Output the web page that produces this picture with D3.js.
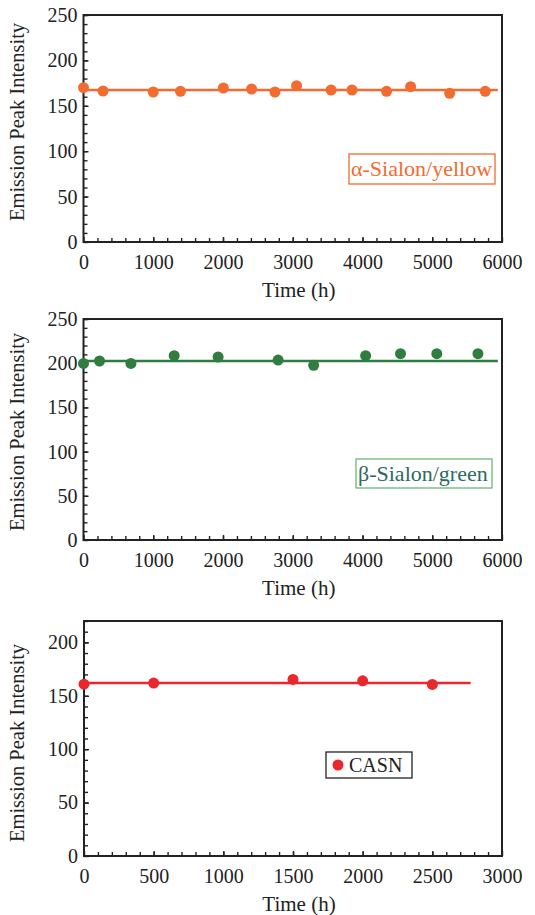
<!DOCTYPE html>
<html>
<head>
<meta charset="utf-8">
<script src="https://cdn.jsdelivr.net/npm/d3@7"></script>
<style>
  html, body { margin: 0; padding: 0; background: #fff; }
  svg { display: block; }
  text { font-family: "Liberation Serif", "Times New Roman", "DejaVu Serif", serif; }
</style>
</head>
<body>
<svg id="chart" width="535" height="915"></svg>
<script>
// α-Sialon (yellow phosphor) aging test
const alphaTime = [0, 280, 1000, 1390, 2005, 2410, 2745, 3055, 3550, 3850, 4345, 4690, 5250, 5760];
const alphaIntensity = [170, 166.3, 165.2, 166, 169.6, 168.5, 165.2, 172.2, 167.4, 167.4, 166, 171, 163.7, 166];
const alphaFit = [167.4, 167.4];
const alphaFitTime = [0, 5940];

// β-Sialon (green phosphor) aging test
const betaTime = [0, 230, 680, 1300, 1930, 2790, 3300, 4045, 4545, 5065, 5655];
const betaIntensity = [199.8, 202.5, 199.8, 208.5, 207, 203.6, 197.6, 208.5, 210.8, 210.8, 210.8];
const betaFit = [202.5, 202.5];
const betaFitTime = [0, 5940];

// CASN (red phosphor) aging test
const casnTime = [0, 500, 1500, 2000, 2500];
const casnIntensity = [160.9, 161.9, 165.3, 164, 160.6];
const casnFit = [161.9, 161.9];
const casnFitTime = [0, 2775];

// Axis ranges and tick values
const yTicks250 = [0, 50, 100, 150, 200, 250];
const yTicks220 = [0, 50, 100, 150, 200];
const xTicks6000 = [0, 1000, 2000, 3000, 4000, 5000, 6000];
const xTicks3000 = [0, 500, 1000, 1500, 2000, 2500, 3000];

const yLabel = "Emission Peak Intensity";
const xLabel = "Time (h)";

const serif = '"Liberation Serif", "Times New Roman", "DejaVu Serif", serif';
const svg = d3.select("#chart");

function panel(cfg) {
  const x = d3.scaleLinear().domain(cfg.xDomain).range([cfg.left, cfg.right]);
  const y = d3.scaleLinear().domain(cfg.yDomain).range([cfg.bottom, cfg.top]);
  const g = svg.append("g");

  // minor ticks (inward)
  const xMinor = d3.range(cfg.xDomain[0] + cfg.xMinorStep, cfg.xDomain[1], cfg.xMinorStep);
  const yMinor = d3.range(cfg.yDomain[0] + cfg.yMinorStep, cfg.yDomain[1] + 0.001, cfg.yMinorStep);

  g.append("g")
    .attr("transform", `translate(0,${cfg.bottom})`)
    .call(d3.axisBottom(x).tickValues(xMinor).tickSize(-4).tickFormat(""))
    .call(a => a.select(".domain").remove())
    .call(a => a.selectAll("line").attr("stroke", "#222").attr("stroke-width", 1.4));

  g.append("g")
    .attr("transform", `translate(${cfg.left},0)`)
    .call(d3.axisLeft(y).tickValues(yMinor).tickSize(-4).tickFormat(""))
    .call(a => a.select(".domain").remove())
    .call(a => a.selectAll("line").attr("stroke", "#222").attr("stroke-width", 1.4));

  // major ticks + labels
  g.append("g")
    .attr("transform", `translate(0,${cfg.bottom})`)
    .attr("font-family", serif)
    .call(d3.axisBottom(x).tickValues(cfg.xTicks).tickSize(-5).tickPadding(13).tickFormat(d3.format("d")))
    .call(a => a.select(".domain").remove())
    .call(a => a.selectAll("line").attr("stroke", "#222").attr("stroke-width", 1.4))
    .call(a => a.selectAll("text").attr("font-size", 20).attr("fill", "#222")
      .style("font-family", serif));

  g.append("g")
    .attr("transform", `translate(${cfg.left},0)`)
    .attr("font-family", serif)
    .call(d3.axisLeft(y).tickValues(cfg.yTicks).tickSize(-5).tickPadding(6).tickFormat(d3.format("d")))
    .call(a => a.select(".domain").remove())
    .call(a => a.selectAll("line").attr("stroke", "#222").attr("stroke-width", 1.4))
    .call(a => a.selectAll("text").attr("font-size", 20).attr("fill", "#222")
      .style("font-family", serif));

  // frame
  g.append("rect")
    .attr("x", cfg.left).attr("y", cfg.top)
    .attr("width", cfg.right - cfg.left).attr("height", cfg.bottom - cfg.top)
    .attr("fill", "none").attr("stroke", "#222").attr("stroke-width", 2);

  // fit line
  const line = d3.line().x(d => x(d[0])).y(d => y(d[1]));
  g.append("path")
    .datum(cfg.fitTime.map((t, i) => [t, cfg.fit[i]]))
    .attr("d", line)
    .attr("fill", "none").attr("stroke", cfg.color).attr("stroke-width", 2.5);

  // data points
  g.selectAll("circle.pt")
    .data(cfg.time.map((t, i) => [t, cfg.values[i]]))
    .join("circle")
    .attr("class", "pt")
    .attr("cx", d => x(d[0])).attr("cy", d => y(d[1]))
    .attr("r", 5.5).attr("fill", cfg.color);

  // axis titles
  g.append("text")
    .attr("x", (cfg.left + cfg.right) / 2 + 6).attr("y", cfg.bottom + 55)
    .attr("text-anchor", "middle").attr("font-size", 21).attr("fill", "#222")
    .style("font-family", serif)
    .text(xLabel);

  g.append("text")
    .attr("transform", `translate(${cfg.yTitleX},${cfg.yTitleY}) rotate(-90)`)
    .attr("text-anchor", "middle").attr("font-size", 20.5).attr("fill", "#222")
    .style("font-family", serif)
    .text(yLabel);

  // legend
  const lg = g.append("g");
  lg.append("rect")
    .attr("x", cfg.legend.x).attr("y", cfg.legend.y)
    .attr("width", cfg.legend.w).attr("height", cfg.legend.h)
    .attr("fill", "#fff").attr("stroke", cfg.legend.border).attr("stroke-width", 1.3);
  if (cfg.legend.marker) {
    lg.append("circle")
      .attr("cx", cfg.legend.x + 12).attr("cy", cfg.legend.y + cfg.legend.h / 2)
      .attr("r", 5.5).attr("fill", cfg.color);
  }
  lg.append("text")
    .attr("x", cfg.legend.tx).attr("y", cfg.legend.y + cfg.legend.h / 2 + 7)
    .attr("font-size", cfg.legend.fs).attr("fill", cfg.legend.textColor)
    .style("font-family", serif)
    .text(cfg.legend.label);
}

panel({
  left: 83.5, right: 502, top: 15, bottom: 242,
  xDomain: [0, 6000], yDomain: [0, 250], xTicks: xTicks6000, yTicks: yTicks250,
  xMinorStep: 200, yMinorStep: 10,
  time: alphaTime, values: alphaIntensity, fit: alphaFit, fitTime: alphaFitTime,
  color: "#f26b30", yTitleX: 24, yTitleY: 122,
  legend: { x: 349, y: 154, w: 146, h: 30, tx: 351, fs: 22, label: "α-Sialon/yellow",
            border: "#f26b30", textColor: "#f26b30" }
});

panel({
  left: 83.5, right: 502, top: 319, bottom: 540,
  xDomain: [0, 6000], yDomain: [0, 250], xTicks: xTicks6000, yTicks: yTicks250,
  xMinorStep: 200, yMinorStep: 10,
  time: betaTime, values: betaIntensity, fit: betaFit, fitTime: betaFitTime,
  color: "#2f7d40", yTitleX: 24, yTitleY: 432,
  legend: { x: 356, y: 459, w: 136, h: 29, tx: 358, fs: 22, label: "β-Sialon/green",
            border: "#6cb67c", textColor: "#2c6b5e" }
});

panel({
  left: 84, right: 502, top: 621, bottom: 856,
  xDomain: [0, 3000], yDomain: [0, 220], xTicks: xTicks3000, yTicks: yTicks220,
  xMinorStep: 100, yMinorStep: 10,
  time: casnTime, values: casnIntensity, fit: casnFit, fitTime: casnFitTime,
  color: "#e8282c", yTitleX: 24, yTitleY: 743,
  legend: { x: 326, y: 752, w: 86, h: 26, tx: 349, fs: 20, label: "CASN", marker: true,
            border: "#222", textColor: "#222" }
});
</script>
</body>
</html>
